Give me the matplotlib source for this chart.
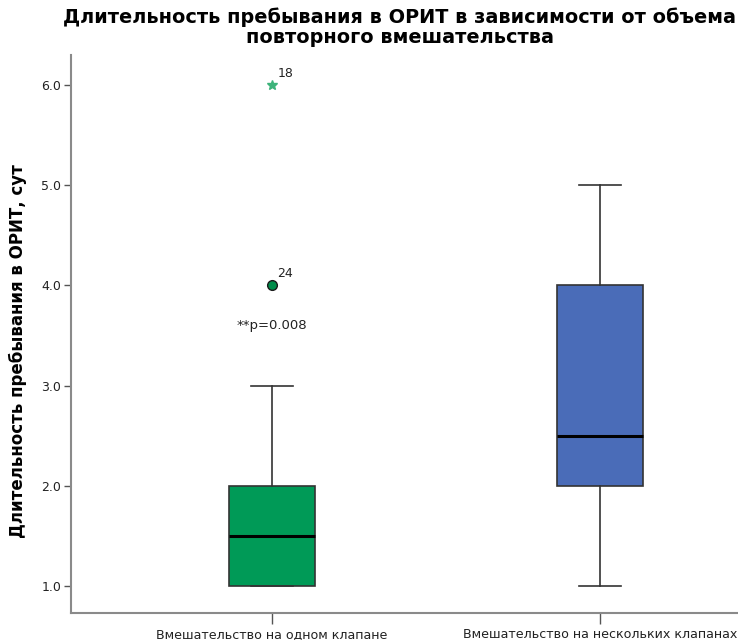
import matplotlib.pyplot as plt

# data
groups = ["Вмешательство на одном клапане", "Вмешательство на нескольких клапанах"]
q1 = [1.0, 2.0]
medians = [1.5, 2.5]
q3 = [2.0, 4.0]
whisk_lo = [1.0, 1.0]
whisk_hi = [3.0, 5.0]
box_colors = ["#009A57", "#4A6CB8"]

# outliers of group 1: (value, case number, kind)
outlier_vals = [4.0, 6.0]
outlier_ids = ["24", "18"]
outlier_kind = ["o", "*"]

p_text = "**p=0.008"
p_y = 3.6

fig = plt.figure(figsize=(7.38, 6.4), dpi=100)
# axes wider than the figure: the right part is cut off like in the reference
ax = fig.add_axes([71 / 738, 27 / 640, 730 / 738, 558 / 640])

stats = []
for i in range(len(groups)):
    stats.append({"med": medians[i], "q1": q1[i], "q3": q3[i],
                  "whislo": whisk_lo[i], "whishi": whisk_hi[i], "fliers": []})

bp = ax.bxp(stats, positions=[1, 2], widths=0.26, patch_artist=True,
            showfliers=False,
            boxprops=dict(edgecolor="#333333", linewidth=1.2),
            whiskerprops=dict(color="#333333", linewidth=1.2),
            capprops=dict(color="#333333", linewidth=1.2),
            medianprops=dict(color="black", linewidth=2.2),
            capwidths=0.13)
for patch, c in zip(bp["boxes"], box_colors):
    patch.set_facecolor(c)

# outliers and extremes for the first group
for v, lab, m in zip(outlier_vals, outlier_ids, outlier_kind):
    if m == "o":
        ax.plot(1, v, marker="o", markersize=7, markerfacecolor="#008C4A",
                markeredgecolor="#1a1a1a", markeredgewidth=1, linestyle="none")
    else:
        ax.plot(1, v, marker="*", markersize=7, color="#3DB37A", linestyle="none")
    ax.annotate(lab, (1, v), xytext=(4, 6), textcoords="offset points",
                fontsize=9, color="#222222")

ax.text(1, p_y, p_text, ha="center", va="center", fontsize=9.5, color="#222222")

ax.set_xlim(0.387, 2.613)
ax.set_ylim(0.73, 6.3)
ax.set_yticks([1, 2, 3, 4, 5, 6])
ax.set_yticklabels([f"{v:.1f}" for v in [1, 2, 3, 4, 5, 6]])
ax.set_xticks([1, 2])
ax.set_xticklabels(groups)

for s in ["top", "right"]:
    ax.spines[s].set_visible(False)
for s in ["left", "bottom"]:
    ax.spines[s].set_color("#8a8a8a")
    ax.spines[s].set_linewidth(1.5)

ax.tick_params(axis="y", direction="out", length=5, width=1, color="#555555",
               labelsize=9, labelcolor="#222222", pad=2)
ax.tick_params(axis="x", direction="out", length=8, width=1, color="#555555",
               labelsize=9.1, labelcolor="#222222", pad=3)

ax.set_ylabel("Длительность пребывания в ОРИТ, сут", fontsize=12,
              fontweight="bold", labelpad=10, y=0.47)
fig.text(400 / 738, 0.988, "Длительность пребывания в ОРИТ в зависимости от объема\nповторного вмешательства",
         ha="center", va="top", fontsize=13.9, fontweight="bold", linespacing=1.05)

fig.savefig("out.png", dpi=100)
